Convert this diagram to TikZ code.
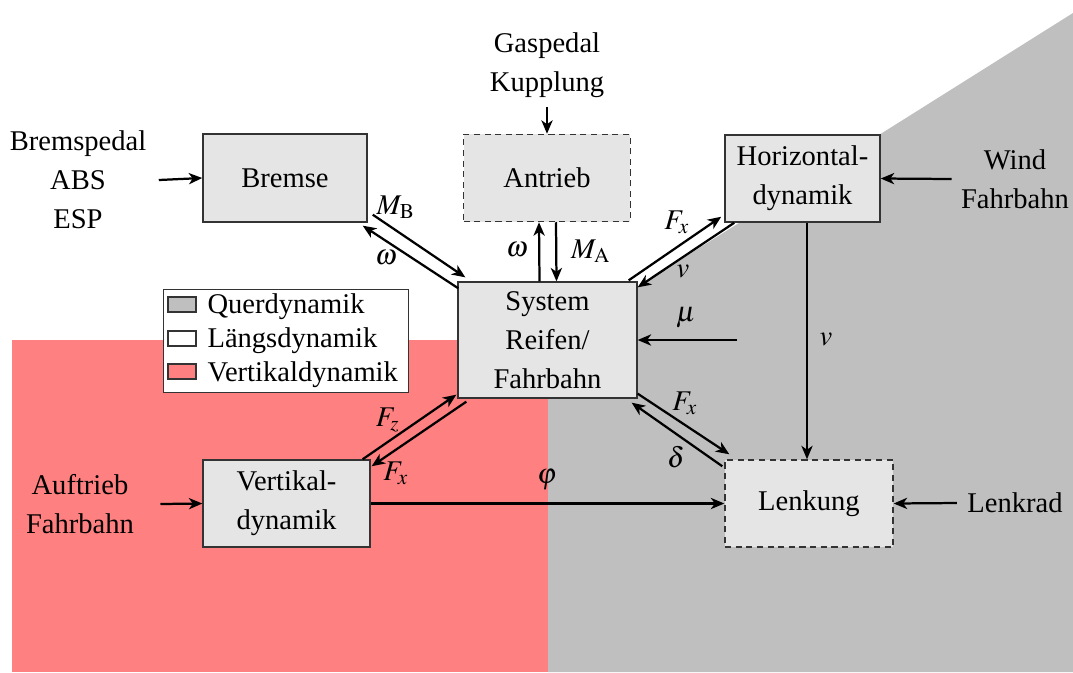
\documentclass[tikz,border=0pt]{standalone}
\usepackage{mathptmx}
\usepackage{fontspec}
\setmainfont{Liberation Serif}
\usetikzlibrary{arrows.meta,calc}
\begin{document}
\begin{tikzpicture}[x=0.357143pt,y=-0.357143pt,
  every node/.style={font=\fontsize{10.2}{13.9}\selectfont},
  box/.style={draw=black!80,line width=0.5pt,fill=gray!20,inner sep=0pt,align=center},
  dbox/.style={box,dash pattern=on 2.2pt off 1.6pt},
  txt/.style={inner sep=0pt,align=center},
  arr/.style={line width=0.8pt,-{Stealth[length=4.8pt,width=4pt,inset=1.4pt]}},
  lbl/.style={inner sep=0pt},
  sw/.style={draw=black!80,line width=0.5pt}]
\useasboundingbox (0,0) rectangle (1073,672);
% background regions
\fill[red!50] (12,340) rectangle (548,672);
\fill[gray!50] (548,672) -- (548,343) -- (1073,13) -- (1073,672) -- cycle;
% boxes
\node[box,minimum width=58.6pt,minimum height=31.4pt] (brems) at (285,178) {Bremse};
\node[dbox,minimum width=59.6pt,minimum height=31.1pt] (antr) at (547,178) {Antrieb};
\node[box,minimum width=55.4pt,minimum height=31.1pt] (horiz) at (802.5,178.5) {Horizontal-\\dynamik};
\node[box,minimum width=63.9pt,minimum height=41.4pt] (sys) at (547.5,340) {System\\Reifen/\\Fahrbahn};
\node[box,minimum width=59.6pt,minimum height=31.1pt] (vert) at (286.5,503.5) {Vertikal-\\dynamik};
\node[dbox,minimum width=60pt,minimum height=31.1pt] (lenk) at (809,503.5) {Lenkung};
% outer inputs
\node[txt] (bp) at (78,180) {Bremspedal\\ABS\\ESP};
\node[txt] (gas) at (547,65) {Gaspedal\\Kupplung};
\node[txt] (wind) at (1015,179) {Wind\\Fahrbahn};
\node[txt] (auf) at (80,504) {Auftrieb\\Fahrbahn};
\node[txt] (lr) at (1015,503) {Lenkrad};
\draw[arr] ($(bp.east)+(12,0)$) -- (brems.west);
\draw[arr] ($(gas.south)+(0,9)$) -- (antr.north);
\draw[arr] ($(wind.west)+(-9,0)$) -- (horiz.east);
\draw[arr] ($(auf.east)+(26,0)$) -- (vert.west);
\draw[arr] ($(lr.west)+(-10,0)$) -- (lenk.east);
% mu
\coordinate (mu0) at (737,340);
\draw[arr] (mu0) -- (sys.east);
\node[lbl] (mu) at (686,318) {$\mu$};
% Antrieb <-> System
\draw[arr] ($(sys.north)+(-8,0)$) -- ($(antr.south)+(-8,0)$);
\draw[arr] ($(antr.south)+(9,0)$) -- ($(sys.north)+(9,0)$);
\node[lbl] at (517,250) {$\omega$};
\node[lbl] at (591,251) {$M_{\mathrm{A}}$};
% Bremse <-> System
\draw[arr] ($(brems.south east)+(5,-8)$) -- ($(sys.north west)+(8,-4)$);
\draw[arr] ($(sys.north west)+(1,7)$) -- ($(brems.south east)+(-5,3)$);
\node[lbl] at (396,207) {$M_{\mathrm{B}}$};
\node[lbl] at (386,258) {$\omega$};
% Horizontal <-> System
\draw[arr] ($(sys.north east)+(-9,-1)$) -- ($(horiz.south west)+(-3,-6)$);
\draw[arr] ($(horiz.south west)+(10,0)$) -- ($(sys.north east)+(0,6)$);
\node[lbl] at (677,222) {$F_x$};
\node[lbl] at (683,272) {$v$};
% Horizontal -> Lenkung
\draw[arr] (horiz.south -| 807,0) -- (lenk.north -| 807,0);
\node[lbl] at (826,340) {$v$};
% Vertikal <-> System
\draw[arr] ($(vert.north east)+(-8,0)$) -- ($(sys.south west)+(-1,-4)$);
\draw[arr] ($(sys.south west)+(9,3)$) -- ($(vert.north east)+(1,7)$);
\node[lbl] at (388,420) {$F_z$};
\node[lbl] at (396,473) {$F_x$};
% System <-> Lenkung
\draw[arr] ($(sys.south east)+(0,-5)$) -- ($(lenk.north west)+(5,-5)$);
\draw[arr] ($(lenk.north west)+(-2,7)$) -- ($(sys.south east)+(-6,4)$);
\node[lbl] at (685,403) {$F_x$};
\node[lbl] at (676,457) {$\delta$};
% Vertikal -> Lenkung
\draw[arr] (vert.east) -- (lenk.west);
\node[lbl] at (547,480) {$\varphi$};
% legend
\node[draw=black!80,line width=0.5pt,fill=white,minimum width=87.5pt,minimum height=36.8pt,inner sep=0pt] (leg) at (286,341) {};
\draw[sw,fill=gray!50] (168,297) rectangle (196,312);
\draw[sw,fill=white] (168,331) rectangle (196,346);
\draw[sw,fill=red!50] (168,364) rectangle (196,379);
\node[lbl,anchor=base west] (l1) at (207,313) {Querdynamik};
\node[lbl,anchor=base west] (l2) at (207,347) {Längsdynamik};
\node[lbl,anchor=base west] (l3) at (207,381) {Vertikaldynamik};
\end{tikzpicture}
\end{document}
